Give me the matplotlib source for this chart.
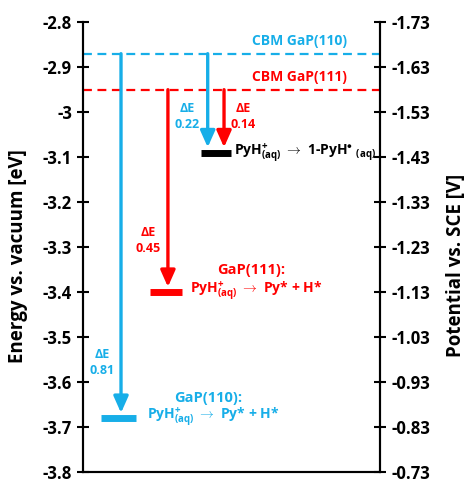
import matplotlib.pyplot as plt
import numpy as np

plt.rcParams['font.family'] = ['Open Sans', 'DejaVu Sans']
plt.rcParams['font.weight'] = 'bold'
plt.rcParams['mathtext.fontset'] = 'custom'
plt.rcParams['mathtext.bf'] = 'Open Sans:bold'
plt.rcParams['mathtext.rm'] = 'Open Sans:bold'
plt.rcParams['mathtext.default'] = 'bf'

BLUE = '#17AEE8'
RED = '#FF0000'

# 能级数据 (eV vs vacuum)
cbm_110 = -2.87
cbm_111 = -2.95
level_1pyh = -3.09
level_111 = -3.40
level_110 = -3.68

# 箭头: (x位置, 起点, 终点, 颜色)
arrow_x = [0.128, 0.286, 0.42, 0.475]
arrow_start = [cbm_110, cbm_111, cbm_110, cbm_111]
arrow_end = [level_110, level_111, level_1pyh, level_1pyh]
arrow_color = [BLUE, RED, BLUE, RED]

left_ticks = np.round(np.arange(-3.8, -2.79, 0.1), 2)
right_ticks = np.round(np.arange(-1.73, -0.72, 0.1), 2)

fig = plt.figure(figsize=(4.65, 4.82), dpi=100)
ax = fig.add_axes([0.1785, 0.02, 0.6385, 0.934])
ax.set_xlim(0, 1)
ax.set_ylim(-3.8, -2.8)

# CBM 虚线
ax.axhline(cbm_110, color=BLUE, ls='--', lw=1.6, dashes=(4, 2.5))
ax.axhline(cbm_111, color=RED, ls='--', lw=1.6, dashes=(4, 2.5))
ax.text(0.73, cbm_110 + 0.012, 'CBM GaP(110)', color=BLUE, fontsize=10, ha='center', va='bottom')
ax.text(0.73, cbm_111 + 0.012, 'CBM GaP(111)', color=RED, fontsize=10, ha='center', va='bottom')

# 能级横条
ax.plot([0.06, 0.18], [level_110] * 2, color=BLUE, lw=5, solid_capstyle='butt', zorder=3)
ax.plot([0.225, 0.335], [level_111] * 2, color=RED, lw=5, solid_capstyle='butt', zorder=3)
ax.plot([0.397, 0.5], [level_1pyh] * 2, color='black', lw=5, solid_capstyle='butt', zorder=3)

for x, y0, y1, c in zip(arrow_x, arrow_start, arrow_end, arrow_color):
    ax.annotate('', xy=(x, y1 + 0.012), xytext=(x, y0),
                arrowprops=dict(arrowstyle='-|>,head_length=0.9,head_width=0.4',
                                lw=2.4, color=c, shrinkA=0, shrinkB=0,
                                mutation_scale=11))

# ΔE 标注
ax.text(0.065, -3.555, 'ΔE\n0.81', color=BLUE, fontsize=9, ha='center', va='center', linespacing=1.3)
ax.text(0.22, -3.285, 'ΔE\n0.45', color=RED, fontsize=9, ha='center', va='center', linespacing=1.3)
ax.text(0.35, -3.01, 'ΔE\n0.22', color=BLUE, fontsize=9, ha='center', va='center', linespacing=1.3)
ax.text(0.54, -3.01, 'ΔE\n0.14', color=RED, fontsize=9, ha='center', va='center', linespacing=1.3)

# 反应标注
ax.text(0.51, level_1pyh, r'PyH$^{+}_{(aq)}$ $\rightarrow$ 1-PyH$^{\bullet}$ $_{(aq)}$', color='black',
        fontsize=10, ha='left', va='center')
ax.text(0.566, -3.35, 'GaP(111):', color=RED, fontsize=10.5, ha='center', va='center')
ax.text(0.36, level_111 + 0.002, r'PyH$^{+}_{(aq)}$ $\rightarrow$ Py* + H*', color=RED, fontsize=10,
        ha='left', va='center')
ax.text(0.42, -3.635, 'GaP(110):', color=BLUE, fontsize=10.5, ha='center', va='center')
ax.text(0.215, level_110 + 0.002, r'PyH$^{+}_{(aq)}$ $\rightarrow$ Py* + H*', color=BLUE, fontsize=10,
        ha='left', va='center')

ax.set_yticks(left_ticks)
ax.set_yticklabels([f'{v:g}' for v in left_ticks])
ax.set_xticks([])
ax.set_ylabel('Energy vs. vacuum [eV]', fontsize=13.5, fontweight='bold')
ax.yaxis.set_label_coords(-0.185, 0.48)
ax.spines['top'].set_visible(False)
for s in ['left', 'right', 'bottom']:
    ax.spines[s].set_linewidth(1.5)
ax.tick_params(axis='y', direction='inout', length=9, width=1.5, labelsize=12)

ax2 = ax.twinx()
ax2.set_ylim(-0.73, -1.73)
ax2.set_yticks(right_ticks)
ax2.set_yticklabels([f'{v:.2f}' for v in right_ticks])
ax2.set_ylabel('Potential vs. SCE [V]', fontsize=13.5, fontweight='bold')
ax2.yaxis.set_label_coords(1.222, 0.46)
ax2.spines['top'].set_visible(False)
for s in ['left', 'right', 'bottom']:
    ax2.spines[s].set_linewidth(1.5)
ax2.tick_params(axis='y', direction='inout', length=9, width=1.5, labelsize=12)

plt.savefig('out.png', dpi=100)
